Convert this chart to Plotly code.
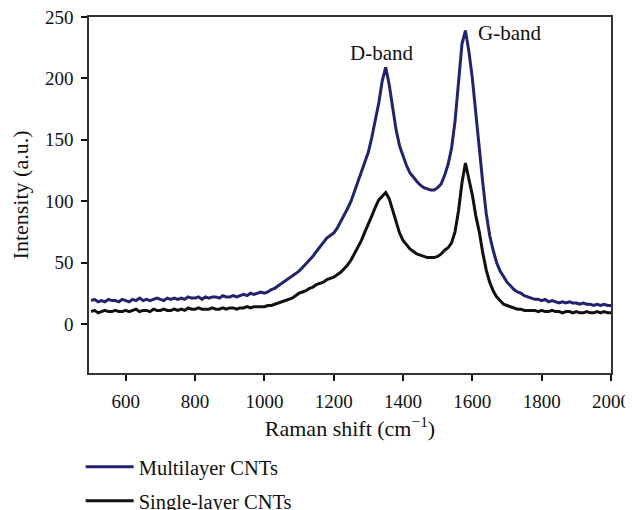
import plotly.graph_objects as go

# Raman shift (cm^-1)
shift = [
    500, 510, 520, 530, 540, 550, 560, 570, 580, 590,
    600, 610, 620, 630, 640, 650, 660, 670, 680, 690,
    700, 710, 720, 730, 740, 750, 760, 770, 780, 790,
    800, 810, 820, 830, 840, 850, 860, 870, 880, 890,
    900, 910, 920, 930, 940, 950, 960, 970, 980, 990,
    1000, 1010, 1020, 1030, 1040, 1050, 1060, 1070, 1080, 1090,
    1100, 1110, 1120, 1130, 1140, 1150, 1160, 1170, 1180, 1190,
    1200, 1210, 1220, 1230, 1240, 1250, 1260, 1270, 1280, 1290,
    1300, 1310, 1320, 1330, 1340, 1350, 1360, 1370, 1380, 1390,
    1400, 1410, 1420, 1430, 1440, 1450, 1460, 1470, 1480, 1490,
    1500, 1510, 1520, 1530, 1540, 1550, 1560, 1570, 1580, 1590,
    1600, 1610, 1620, 1630, 1640, 1650, 1660, 1670, 1680, 1690,
    1700, 1710, 1720, 1730, 1740, 1750, 1760, 1770, 1780, 1790,
    1800, 1810, 1820, 1830, 1840, 1850, 1860, 1870, 1880, 1890,
    1900, 1910, 1920, 1930, 1940, 1950, 1960, 1970, 1980, 1990,
    2000,
]

multilayer = [
    19, 20, 18, 19, 18, 20, 19, 19, 18, 20,
    19, 18, 20, 19, 21, 19, 20, 19, 20, 21,
    20, 19, 21, 20, 21, 20, 21, 20, 22, 21,
    21, 22, 20, 22, 21, 22, 22, 21, 23, 22,
    22, 23, 22, 23, 24, 23, 25, 24, 25, 26,
    25, 26, 28, 29, 31, 33, 35, 37, 39, 41,
    43, 46, 49, 52, 55, 59, 63, 66, 70, 72,
    74, 78, 83, 88, 94, 100, 108, 116, 124, 132,
    140, 152, 165, 180, 198, 209, 195, 175, 158, 145,
    136, 129, 123, 119, 116, 113, 111, 110, 109, 109,
    111, 114, 121, 130, 143, 165, 200, 228, 239, 222,
    200, 170, 145, 115, 90, 72, 60, 50, 43, 38,
    34, 31, 28, 26, 25, 23, 22, 21, 20, 20,
    19, 20, 18, 19, 18, 17, 18, 17, 18, 17,
    17, 16, 17, 16, 16, 15, 16, 15, 16, 15,
    15,
]

single_layer = [
    10, 11, 9, 10, 11, 10, 10, 11, 10, 10,
    11, 10, 11, 12, 10, 11, 11, 10, 12, 11,
    11, 12, 11, 11, 12, 11, 12, 11, 13, 12,
    12, 13, 12, 12, 12, 13, 12, 12, 13, 12,
    13, 13, 12, 13, 13, 14, 13, 14, 14, 14,
    14, 15, 15, 16, 17, 18, 19, 20, 21, 23,
    25, 26, 27, 29, 30, 32, 33, 34, 36, 37,
    38, 40, 42, 45, 48, 52, 57, 62, 68, 75,
    81, 88, 95, 101, 104, 107, 102, 92, 82, 74,
    68, 64, 61, 59, 57, 56, 55, 54, 54, 54,
    55, 57, 60, 62, 66, 75, 92, 115, 131, 118,
    105, 88, 75, 58, 44, 34, 27, 22, 19, 16,
    15, 14, 13, 12, 12, 11, 11, 11, 11, 10,
    11, 10, 10, 11, 10, 10, 9, 10, 10, 9,
    10, 9, 9, 10, 9, 9, 10, 9, 10, 9,
    9,
]

font = "Liberation Serif"

fig = go.Figure()
fig.add_trace(go.Scatter(x=shift, y=multilayer, mode="lines", name="Multilayer CNTs",
                         line=dict(color="#22236f", width=3), legend="legend"))
fig.add_trace(go.Scatter(x=shift, y=single_layer, mode="lines", name="Single-layer CNTs",
                         line=dict(color="#111111", width=3), legend="legend2"))

fig.add_annotation(x=1337, y=221, text="D-band", showarrow=False,
                   font=dict(family=font, size=21, color="#111"))
fig.add_annotation(x=1706, y=237, text="G-band", showarrow=False,
                   font=dict(family=font, size=21, color="#111"))

# page body has an 8px margin, so the figure is 8px smaller than the window
leg = dict(x=-0.016, xanchor="left", yanchor="middle", yref="container",
           bgcolor="rgba(0,0,0,0)", itemwidth=48,
           font=dict(family=font, size=20.5, color="#111"))

fig.update_layout(
    width=625, height=502,
    margin=dict(l=81, r=22, t=9, b=137),
    plot_bgcolor="white", paper_bgcolor="white",
    font=dict(family=font, size=18, color="#111"),
    showlegend=True,
    legend=dict(leg, y=0.086),
    legend2=dict(leg, y=0.018),
    xaxis=dict(range=[494, 2000], tickvals=[600, 800, 1000, 1200, 1400, 1600, 1800, 2000],
               showgrid=False, zeroline=False, showline=True, linecolor="#333", linewidth=1.5,
               mirror=True, ticks="outside", ticklen=6, tickwidth=1.5, tickcolor="#111",
               ticklabelstandoff=4, ticklabeloverflow="allow", tickfont=dict(size=19),
               automargin=False,
               title=dict(text="Raman shift (cm<sup>\u22121</sup>)", standoff=10)),
    yaxis=dict(range=[-40, 250], tickvals=[0, 50, 100, 150, 200, 250],
               showgrid=False, zeroline=False, showline=True, linecolor="#333", linewidth=1.5,
               mirror=True, ticks="outside", ticklen=6, tickwidth=1.5, tickcolor="#111",
               ticklabelstandoff=4, ticklabeloverflow="allow", tickfont=dict(size=19),
               automargin=False,
               title=dict(text="Intensity (a.u.)", standoff=14)),
)

fig.write_html("out.html")
